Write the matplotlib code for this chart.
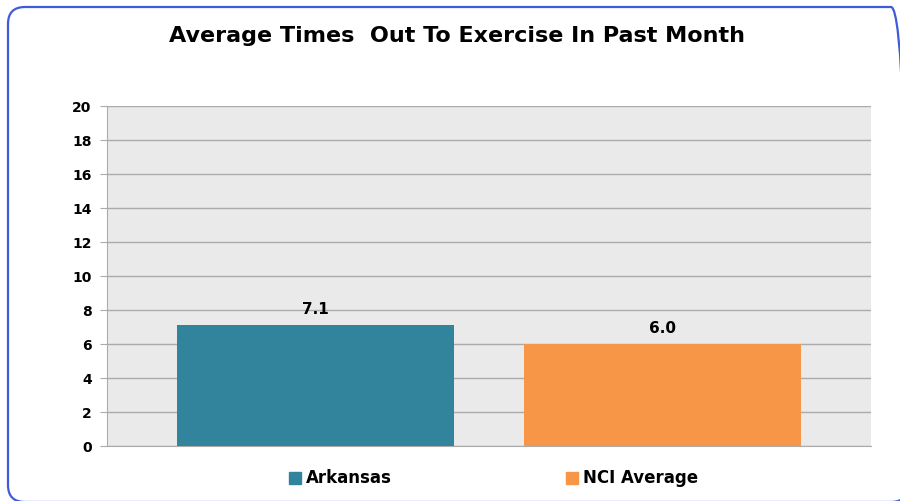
import matplotlib
matplotlib.use("Agg")
import matplotlib.pyplot as plt
from matplotlib.patches import FancyBboxPatch, Rectangle
from matplotlib.transforms import IdentityTransform

series = ["Arkansas", "NCI Average"]
values = [7.1, 6.0]
labels = ["7.1", "6.0"]
colors = ["#31849B", "#F79646"]
yticks = [0, 2, 4, 6, 8, 10, 12, 14, 16, 18, 20]
title = "Average Times  Out To Exercise In Past Month"

W, H = 900, 501
fig = plt.figure(figsize=(W/100, H/100), dpi=100)
fig.patch.set_facecolor("white")

# rounded border (pixel coordinates, origin bottom-left)
border = FancyBboxPatch((8, H - 502), 908 - 8, 502 - 7,
                        boxstyle="round,pad=0,rounding_size=17",
                        transform=IdentityTransform(), fill=False,
                        edgecolor="#3F5BD8", linewidth=1.6, clip_on=False)
fig.patches.append(border)

ax = fig.add_axes([107/W, 1 - 446/H, (871-107)/W, (446-106)/H])
ax.set_facecolor("#EAEAEA")
pos = [-0.5, 0.5]
bw = 277/347.5
half = 382/347.5
bars = ax.bar(pos, values, width=bw, color=colors, zorder=3)
ax.set_xlim(-half, half)
ax.set_ylim(0, 20)
ax.set_yticks(yticks)
ax.set_yticklabels([str(t) for t in yticks], fontsize=10, fontweight="bold")
ax.set_xticks([])
ax.grid(axis="y", color="#ABABAB", linewidth=1.0, zorder=1)
for s in ["top", "right"]:
    ax.spines[s].set_visible(False)
ax.spines["left"].set_color("#ABABAB")
ax.spines["bottom"].set_color("#ABABAB")
ax.tick_params(axis="y", length=5, color="#ABABAB", pad=6)
for p, v, l in zip(pos, values, labels):
    ax.annotate(l, (p, v), xytext=(0, 6), textcoords="offset points",
                ha="center", va="bottom", fontsize=11, fontweight="bold", zorder=4)

fig.text(457/W, 1 - 36/H, title, ha="center", va="center",
         fontsize=16, fontweight="bold")

# legend
for x0, name, c in [(289, series[0], colors[0]), (566, series[1], colors[1])]:
    fig.patches.append(Rectangle((x0/W, 1 - 484/H), 12/W, 12/H,
                                 transform=fig.transFigure, color=c))
    fig.text((x0 + 17)/W, 1 - 478/H, name, ha="left", va="center",
             fontsize=12, fontweight="bold")

fig.savefig("out.png", dpi=100)
